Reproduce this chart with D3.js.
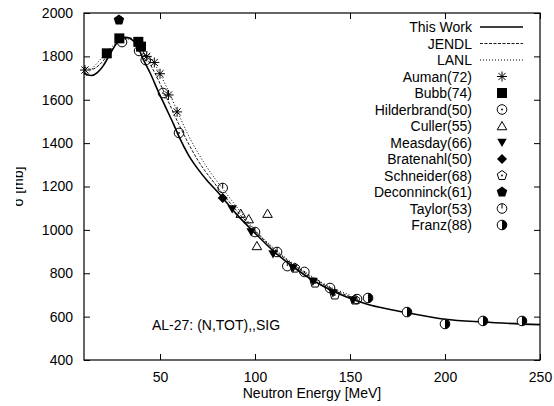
<!DOCTYPE html>
<html>
<head>
<meta charset="utf-8">
<script src="https://cdn.jsdelivr.net/npm/d3@7"></script>
<style>
  body { margin: 0; background: #fff; }
  text { font-family: "Liberation Sans", Arial, sans-serif; font-size: 14px; fill: #000; }
</style>
</head>
<body>
<div id="chart"></div>
<script>
// curves
var workE = [10, 12, 14, 17, 20, 23, 26, 29, 32, 35, 38, 41, 45, 49, 53, 57, 60, 65, 70, 75, 80, 90, 100, 110, 120, 130, 140, 150, 160, 170, 180, 200, 220, 250];
var workSig = [1725, 1714, 1712, 1725, 1755, 1800, 1845, 1882, 1888, 1878, 1850, 1790, 1720, 1640, 1565, 1490, 1430, 1345, 1280, 1225, 1178, 1075, 985, 900, 830, 770, 722, 685, 655, 635, 618, 588, 575, 563];
var jendlE = [10, 14, 18, 22, 26, 30, 34, 38, 42, 46, 50, 55, 60, 70, 80, 90, 100, 110, 120, 130, 140, 150];
var jendlSig = [1750, 1740, 1760, 1800, 1845, 1878, 1885, 1865, 1810, 1745, 1675, 1580, 1485, 1320, 1200, 1092, 996, 910, 840, 780, 730, 692];
var lanlE = [10, 14, 18, 22, 26, 30, 34, 38, 42, 46, 50, 55, 60, 65, 70, 75, 83, 90, 100, 110, 120, 130, 140, 150];
var lanlSig = [1700, 1740, 1780, 1820, 1855, 1875, 1880, 1868, 1835, 1785, 1720, 1630, 1530, 1435, 1355, 1285, 1190, 1110, 1000, 915, 845, 785, 735, 700];

// measurements
var aumanE = [10.5, 43, 47, 50, 54.5, 59];
var aumanSig = [1737, 1800, 1772, 1720, 1622, 1544];
var bubbE = [22, 28.6, 38.6, 40];
var bubbSig = [1814, 1883, 1867, 1845];
var hildE = [30, 39, 42.5, 51.6, 60, 100, 126, 139.5, 153.7];
var hildSig = [1866, 1825, 1783, 1631, 1447, 990, 806, 732, 681];
var cullerE = [92.5, 96.7, 106.6, 101];
var cullerSig = [1075, 1050, 1075, 926];
var measE = [88, 98, 109.5, 120, 130.5, 141, 151.6];
var measSig = [1096, 990, 889, 824, 762, 709, 677];
var bratE = [83];
var bratSig = [1147];
var schnE = [121, 131.6, 142, 152.6];
var schnSig = [824, 755, 700, 677];
var decoE = [28.4];
var decoSig = [1968];
var taylorE = [83, 111.6, 117];
var taylorSig = [1193, 898, 833];
var franzE = [159.5, 180, 200, 220, 240.5];
var franzSig = [686, 621, 566, 580, 580];

var xTicks = [50, 100, 150, 200, 250];
var yTicks = [400, 600, 800, 1000, 1200, 1400, 1600, 1800, 2000];

var W = 554, H = 406;
var margin = { top: 13, right: 14, bottom: 46, left: 84 };

var svg = d3.select("#chart").append("svg")
    .attr("width", W)
    .attr("height", H);

var x = d3.scaleLinear().domain([10, 250]).range([margin.left, W - margin.right]);
var y = d3.scaleLinear().domain([400, 2000]).range([H - margin.bottom, margin.top]);

// ticks (gnuplot style: inward, mirrored)
var tl = 6;
svg.append("g")
    .attr("transform", "translate(0," + y(400) + ")")
    .call(d3.axisBottom(x).tickValues(xTicks).tickSizeInner(-tl).tickSizeOuter(0).tickPadding(12).tickFormat(d3.format("d")))
    .call(function (g) { g.select(".domain").remove(); });
svg.append("g")
    .attr("transform", "translate(0," + y(2000) + ")")
    .call(d3.axisTop(x).tickValues(xTicks).tickSizeInner(-tl).tickSizeOuter(0).tickFormat(""))
    .call(function (g) { g.select(".domain").remove(); });
svg.append("g")
    .attr("transform", "translate(" + x(10) + ",0)")
    .call(d3.axisLeft(y).tickValues(yTicks).tickSizeInner(-tl).tickSizeOuter(0).tickPadding(11).tickFormat(d3.format("d")))
    .call(function (g) { g.select(".domain").remove(); });
svg.append("g")
    .attr("transform", "translate(" + x(250) + ",0)")
    .call(d3.axisRight(y).tickValues(yTicks).tickSizeInner(-tl).tickSizeOuter(0).tickFormat(""))
    .call(function (g) { g.select(".domain").remove(); });

svg.selectAll(".tick line").attr("stroke", "#000");
svg.selectAll(".tick text")
    .style("font-family", "Liberation Sans, Arial, sans-serif")
    .style("font-size", "14px")
    .attr("fill", "#000");

svg.append("rect")
    .attr("x", x(10)).attr("y", y(2000))
    .attr("width", x(250) - x(10)).attr("height", y(400) - y(2000))
    .attr("fill", "none").attr("stroke", "#000").attr("stroke-width", 1.2);

// axis titles
svg.append("text")
    .attr("text-anchor", "middle")
    .attr("x", (x(10) + x(250)) / 2)
    .attr("y", 398)
    .text("Neutron Energy [MeV]");

// y title is cut off on its left side in the original
svg.append("clipPath").attr("id", "ylab")
    .append("rect").attr("x", 16).attr("y", 0).attr("width", 40).attr("height", H);
svg.append("g")
    .attr("clip-path", "url(#ylab)")
    .append("text")
    .attr("text-anchor", "middle")
    .attr("transform", "translate(23," + ((y(400) + y(2000)) / 2) + ")rotate(-90)")
    .text("σ [mb]");

svg.append("text")
    .attr("x", 152).attr("y", 330)
    .text("AL-27: (N,TOT),,SIG");

// lines
var line = d3.line()
    .x(function (d) { return x(d[0]); })
    .y(function (d) { return y(d[1]); })
    .curve(d3.curveMonotoneX);

function pairs(a, b) { return a.map(function (v, i) { return [v, b[i]]; }); }

var curves = [
    { name: "This Work", e: workE, s: workSig, w: 1.6, dash: null },
    { name: "JENDL", e: jendlE, s: jendlSig, w: 0.9, dash: "3,1.5" },
    { name: "LANL", e: lanlE, s: lanlSig, w: 1, dash: "1,2" }
];

curves.forEach(function (c) {
    svg.append("path")
        .datum(pairs(c.e, c.s))
        .attr("d", line)
        .attr("fill", "none")
        .attr("stroke", "#000")
        .attr("stroke-width", c.w)
        .attr("stroke-dasharray", c.dash);
});

// marker shapes
function poly(n, r, rot) {
    var p = [];
    for (var i = 0; i < n; i++) {
        var a = rot + i * 2 * Math.PI / n;
        p.push([r * Math.cos(a), r * Math.sin(a)]);
    }
    return "M" + p.join("L") + "Z";
}

function drawMarker(g, type) {
    var sw = 1;
    if (type == "auman") {
        g.append("path").attr("d", "M-5,0H5M0,-5V5M-3.6,-3.6L3.6,3.6M-3.6,3.6L3.6,-3.6")
            .attr("stroke", "#000").attr("stroke-width", sw);
    } else if (type == "bubb") {
        g.append("rect").attr("x", -5).attr("y", -5).attr("width", 10).attr("height", 10).attr("fill", "#000");
    } else if (type == "hild") {
        g.append("circle").attr("r", 4.8).attr("fill", "none").attr("stroke", "#000").attr("stroke-width", sw);
        g.append("circle").attr("r", 0.9).attr("fill", "#000");
    } else if (type == "culler") {
        g.append("path").attr("d", poly(3, 5.5, -Math.PI / 2)).attr("transform", "translate(0,1)")
            .attr("fill", "none").attr("stroke", "#000").attr("stroke-width", sw);
    } else if (type == "meas") {
        g.append("path").attr("d", poly(3, 5.5, Math.PI / 2)).attr("transform", "translate(0,-1)").attr("fill", "#000");
    } else if (type == "brat") {
        g.append("path").attr("d", poly(4, 5, 0)).attr("fill", "#000");
    } else if (type == "schn") {
        g.append("path").attr("d", poly(5, 5, -Math.PI / 2))
            .attr("fill", "none").attr("stroke", "#000").attr("stroke-width", sw);
        g.append("circle").attr("r", 0.9).attr("fill", "#000");
    } else if (type == "deco") {
        g.append("path").attr("d", poly(5, 5.5, -Math.PI / 2)).attr("fill", "#000");
    } else if (type == "taylor") {
        g.append("circle").attr("r", 4.8).attr("fill", "none").attr("stroke", "#000").attr("stroke-width", sw);
        g.append("path").attr("d", "M0,-4.8V0").attr("stroke", "#000").attr("stroke-width", sw);
    } else if (type == "franz") {
        g.append("circle").attr("r", 4.8).attr("fill", "#fff").attr("stroke", "#000").attr("stroke-width", sw);
        g.append("path").attr("d", "M0,-4.8A4.8,4.8 0 0 1 0,4.8Z").attr("fill", "#000");
    }
}

var sets = [
    { name: "Auman(72)", type: "auman", e: aumanE, s: aumanSig },
    { name: "Bubb(74)", type: "bubb", e: bubbE, s: bubbSig },
    { name: "Hilderbrand(50)", type: "hild", e: hildE, s: hildSig },
    { name: "Culler(55)", type: "culler", e: cullerE, s: cullerSig },
    { name: "Measday(66)", type: "meas", e: measE, s: measSig },
    { name: "Bratenahl(50)", type: "brat", e: bratE, s: bratSig },
    { name: "Schneider(68)", type: "schn", e: schnE, s: schnSig },
    { name: "Deconninck(61)", type: "deco", e: decoE, s: decoSig },
    { name: "Taylor(53)", type: "taylor", e: taylorE, s: taylorSig },
    { name: "Franz(88)", type: "franz", e: franzE, s: franzSig }
];

sets.forEach(function (st) {
    svg.append("g").selectAll("g")
        .data(pairs(st.e, st.s))
        .enter().append("g")
        .attr("transform", function (d) { return "translate(" + x(d[0]) + "," + y(d[1]) + ")"; })
        .each(function () { drawMarker(d3.select(this), st.type); });
});

// legend
var lgX = 472, lgY = 32, lgStep = 16.5;
var leg = svg.append("g");
curves.forEach(function (c, i) {
    leg.append("text").attr("x", lgX).attr("y", lgY + i * lgStep).attr("text-anchor", "end").text(c.name);
    leg.append("line")
        .attr("x1", 480).attr("x2", 523)
        .attr("y1", lgY + i * lgStep - 5).attr("y2", lgY + i * lgStep - 5)
        .attr("stroke", "#000").attr("stroke-width", c.w).attr("stroke-dasharray", c.dash);
});
sets.forEach(function (st, j) {
    var i = j + 3;
    leg.append("text").attr("x", lgX).attr("y", lgY + i * lgStep).attr("text-anchor", "end").text(st.name);
    var g = leg.append("g").attr("transform", "translate(502," + (lgY + i * lgStep - 5) + ")");
    drawMarker(g, st.type);
});
</script>
</body>
</html>
